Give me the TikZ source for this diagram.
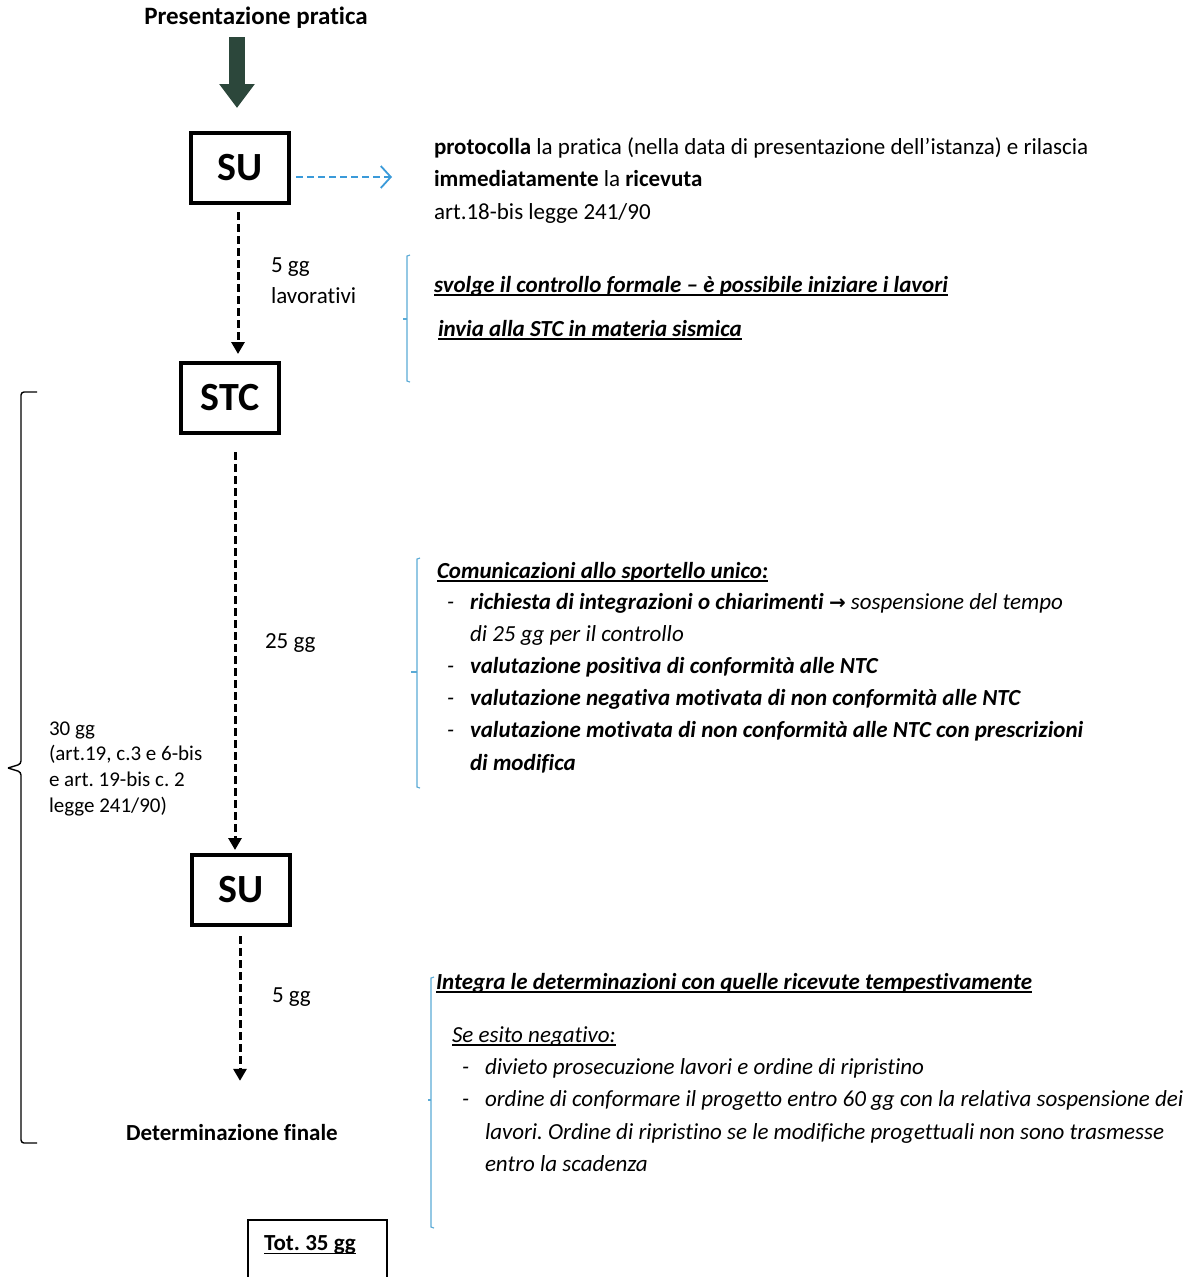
\documentclass[tikz,border=0pt]{standalone}
\usepackage{fontspec}
\setmainfont{Carlito}[Ligatures=NoCommon]
\newfontfamily\symfont{DejaVu Sans}
\usetikzlibrary{arrows.meta}
\newcommand\myul[1]{\leavevmode\setbox0\hbox{#1}\rlap{\rule[-3.5pt]{\wd0}{1.4pt}}\box0}
\definecolor{darkgreen}{HTML}{2C473B}
\definecolor{lblue}{HTML}{3A9AD9}
\definecolor{bblue}{HTML}{5AAAD5}
\begin{document}
\frenchspacing
\begin{tikzpicture}[x=1pt,y=-1pt,
  every node/.style={inner sep=0pt,outer sep=0pt},
  txt/.style={anchor=base west,font=\fontsize{23}{27}\selectfont},
  small/.style={anchor=base west,font=\fontsize{21}{25}\selectfont},
  boxnode/.style={draw,line width=3.2pt,minimum width=98pt,minimum height=70pt,font=\fontsize{40}{44}\selectfont\bfseries},
  dasharrow/.style={draw,line width=3pt,dash pattern=on 8pt off 4pt,-{Triangle[width=13pt,length=12pt]}},
  bracketb/.style={draw=bblue,line width=1.1pt},
  bi/.style={font=\fontsize{23}{27}\selectfont\bfseries\itshape},
  it/.style={font=\fontsize{23}{27}\selectfont\itshape},
]
\useasboundingbox (0,0) rectangle (1202,1277);

% title and big arrow
\node[font=\fontsize{25}{29}\selectfont\bfseries] (pres) at (256,18) {Presentazione pratica};
\coordinate (a1) at (237,37);
\coordinate (a2) at (237,108);
\draw[darkgreen,line width=16pt,-{Triangle[width=34pt,length=24pt]}] (a1) -- (a2);

% boxes
\node[boxnode] (su1) at (240,168) {SU};
\node[boxnode] (stc) at (230,398) {STC};
\node[boxnode] (su2) at (241,890) {SU};
\node[font=\fontsize{23}{27}\selectfont\bfseries] (det) at (232,1133) {Determinazione finale};

% connectors
\coordinate (bx) at (295,177);
\coordinate (ex) at (392,177);
\draw[lblue,line width=2pt,dash pattern=on 7pt off 4pt,-{Straight Barb[length=10pt,width=22pt,line width=1.8pt]}] (su1.east |- bx) ++(7,0) -- (ex);

\coordinate (x1) at (238,0);
\draw[dasharrow,shorten <=9pt,shorten >=9pt] (su1.south -| x1) -- (stc.north -| x1);
\coordinate (x2) at (235,0);
\draw[dasharrow,shorten <=19pt,shorten >=5pt] (stc.south -| x2) -- (su2.north -| x2);
\coordinate (x3) at (240,0);
\draw[dasharrow,shorten <=11pt,shorten >=44pt] (su2.south -| x3) -- (det.north -| x3);

% labels on arrows
\node[txt] (l1) at (271,272) {5 gg};
\node[txt] (l2) at (271,303) {lavorativi};
\node[txt] (l3) at (265,648) {25 gg};
\node[txt] (l4) at (272,1002) {5 gg};

% left bracket
\draw[line width=1.4pt,rounded corners=3pt] (37,392) -- (21,392) -- (21,764) -- (8,768);
\draw[line width=1.4pt,rounded corners=3pt] (8,768) -- (21,772) -- (21,1143) -- (37,1143);
\node[small] (t1) at (49,735) {30 gg};
\node[small] (t2) at (49,760) {(art.19, c.3 e 6-bis};
\node[small] (t3) at (49,786) {e art. 19-bis c. 2};
\node[small] (t4) at (49,812) {legge 241/90)};

% right text 1
\node[txt] (r1) at (434,154) {\textbf{protocolla} la pratica (nella data di presentazione dell’istanza) e rilascia};
\node[txt] (r2) at (434,186) {\textbf{immediatamente} la \textbf{ricevuta}};
\node[txt] (r3) at (434,219) {art.18-bis legge 241/90};

% bracket 1
\draw[bracketb] (410,255) -- (407,256) -- (407,381) -- (410,382);
\draw[bracketb] (407,319) -- (403,319);
\node[txt,bi] (s1) at (434,292) {\myul{svolge il controllo formale – è possibile iniziare i lavori}};
\node[txt,bi] (s2) at (438,336) {\myul{invia alla STC in materia sismica}};

% bracket 2
\draw[bracketb] (420,558) -- (417,559) -- (417,787) -- (420,788);
\draw[bracketb] (417,672) -- (411,672);
\node[txt,bi] (c0) at (437,578) {\myul{Comunicazioni allo sportello unico:}};
\node[txt,it] (d1) at (447,609) {-};
\node[txt,it] (c1) at (470,609) {\textbf{richiesta di integrazioni o chiarimenti} {\symfont\bfseries\fontsize{20}{24}\selectfont →} sospensione del tempo};
\node[txt,it] (c1b) at (470,641) {di 25 gg per il controllo};
\node[txt,it] (d2) at (447,673) {-};
\node[txt,bi] (c2) at (470,673) {valutazione positiva di conformità alle NTC};
\node[txt,it] (d3) at (447,705) {-};
\node[txt,bi] (c3) at (470,705) {valutazione negativa motivata di non conformità alle NTC};
\node[txt,it] (d4) at (447,737) {-};
\node[txt,bi] (c4) at (470,737) {valutazione motivata di non conformità alle NTC con prescrizioni};
\node[txt,bi] (c4b) at (470,770) {di modifica};

% bracket 3
\draw[bracketb] (434,977) -- (431,978) -- (431,1227) -- (434,1228);
\draw[bracketb] (431,1100) -- (428,1100);
\node[txt,bi] (i0) at (436,989) {\myul{Integra le determinazioni con quelle ricevute tempestivamente}};
\node[txt,it] (i1) at (452,1042) {\myul{Se esito negativo:}};
\node[txt,it] (e1d) at (462,1074) {-};
\node[txt,it] (e1) at (485,1074) {divieto prosecuzione lavori e ordine di ripristino};
\node[txt,it] (e2d) at (462,1106) {-};
\node[txt,it] (e2) at (485,1106) {ordine di conformare il progetto entro 60 gg con la relativa sospensione dei};
\node[txt,it] (e3) at (485,1139) {lavori. Ordine di ripristino se le modifiche progettuali non sono trasmesse};
\node[txt,it] (e4) at (485,1171) {entro la scadenza};

% total box
\draw[line width=1.3pt] (248,1277) -- (248,1220) -- (387,1220) -- (387,1277);
\node[font=\fontsize{23}{27}\selectfont\bfseries] (tot) at (310,1245) {\myul{Tot. 35 gg}};
\end{tikzpicture}
\end{document}
